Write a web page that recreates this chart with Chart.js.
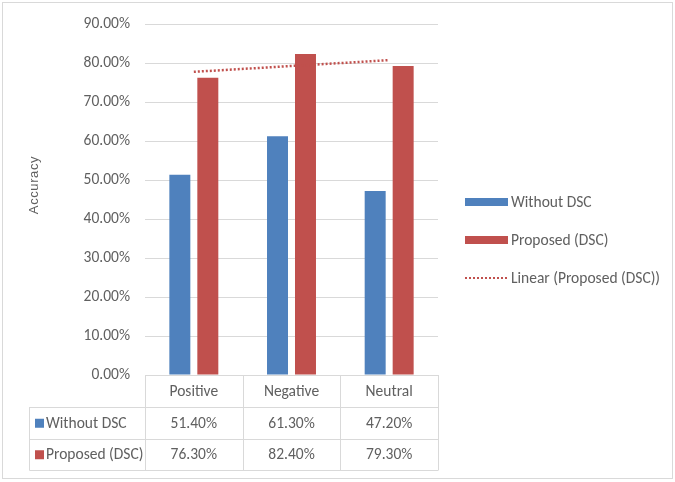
<!DOCTYPE html>
<html>
<head>
<meta charset="utf-8">
<script src="https://cdn.jsdelivr.net/npm/chart.js@4/dist/chart.umd.min.js"></script>
<style>
html,body{margin:0;padding:0;background:#fff;}
#wrap{position:relative;width:675px;height:482px;}
</style>
</head>
<body>
<div id="wrap"><canvas id="c" width="675" height="482"></canvas></div>
<script>
const categories = ['Positive', 'Negative', 'Neutral'];
const withoutDSC = [51.4, 61.3, 47.2];
const proposedDSC = [76.3, 82.4, 79.3];
const trendProposed = [77.8, 79.3, 80.8];
const seriesNames = ['Without DSC', 'Proposed (DSC)', 'Linear (Proposed (DSC))'];
const axisTitle = 'Accuracy';
const tableRows = [
  { name: 'Without DSC', values: ['51.40%', '61.30%', '47.20%'] },
  { name: 'Proposed (DSC)', values: ['76.30%', '82.40%', '79.30%'] }
];

const BLUE = '#4F81BD';
const RED = '#C0504D';
const TEXT = '#606060';
const GRID = '#d9d9d9';
const FONT = "Carlito, 'Liberation Sans Narrow', 'Arial Narrow', sans-serif";

const extras = {
  id: 'extras',
  afterDraw(chart) {
    const ctx = chart.ctx;
    const xs = chart.scales.x;
    const area = chart.chartArea;
    ctx.save();
    // outer border
    ctx.strokeStyle = GRID;
    ctx.lineWidth = 1;
    ctx.strokeRect(2.5, 2.5, 670, 476);

    // axis title
    ctx.save();
    ctx.translate(34, 185);
    ctx.rotate(-Math.PI / 2);
    ctx.fillStyle = TEXT;
    ctx.font = "13px 'Liberation Sans', Arial, sans-serif";
    try { ctx.letterSpacing = '0.6px'; } catch (e) {}
    ctx.textAlign = 'center';
    ctx.textBaseline = 'middle';
    ctx.fillText(axisTitle, 0, 0);
    try { ctx.letterSpacing = '0px'; } catch (e) {}
    ctx.restore();

    // data table
    const n = categories.length;
    const colW = (area.right - area.left) / n;
    const bounds = [];
    for (let i = 0; i <= n; i++) bounds.push(area.left + colW * i);
    const rowY = [area.bottom, 407, 438.5, 470];
    const leftX = 29;
    ctx.strokeStyle = GRID;
    ctx.lineWidth = 1;
    ctx.beginPath();
    ctx.moveTo(area.left, Math.round(rowY[0]) + 0.5);
    ctx.lineTo(area.right, Math.round(rowY[0]) + 0.5);
    for (let r = 1; r < rowY.length; r++) {
      ctx.moveTo(leftX + 0.5, Math.round(rowY[r]) + 0.5);
      ctx.lineTo(area.right, Math.round(rowY[r]) + 0.5);
    }
    for (let i = 0; i <= n; i++) {
      const x = Math.round(bounds[i]) + 0.5;
      ctx.moveTo(x, rowY[0]);
      ctx.lineTo(x, rowY[3] + 0.5);
    }
    ctx.moveTo(leftX + 0.5, rowY[1]);
    ctx.lineTo(leftX + 0.5, rowY[3] + 0.5);
    ctx.stroke();

    ctx.fillStyle = TEXT;
    ctx.font = "15.5px " + FONT;
    ctx.textAlign = 'center';
    ctx.textBaseline = 'middle';
    for (let i = 0; i < n; i++) {
      const cx = xs.getPixelForValue(i);
      ctx.fillText(categories[i], cx, (rowY[0] + rowY[1]) / 2 + 1);
      for (let r = 0; r < tableRows.length; r++) {
        ctx.fillText(tableRows[r].values[i], cx, (rowY[r + 1] + rowY[r + 2]) / 2 + 1);
      }
    }
    const keyColors = [BLUE, RED];
    ctx.textAlign = 'left';
    for (let r = 0; r < tableRows.length; r++) {
      const cy = (rowY[r + 1] + rowY[r + 2]) / 2;
      ctx.fillStyle = keyColors[r];
      ctx.fillRect(35, cy - 4, 9, 9);
      ctx.fillStyle = TEXT;
      ctx.fillText(tableRows[r].name, 46, cy + 1);
    }

    // legend
    const lx = 465, ly = [202, 240, 278];
    ctx.fillStyle = BLUE;
    ctx.fillRect(lx, ly[0] - 4, 43, 8);
    ctx.fillStyle = RED;
    ctx.fillRect(lx, ly[1] - 4, 43, 8);
    ctx.strokeStyle = RED;
    ctx.lineWidth = 2;
    ctx.setLineDash([2, 2]);
    ctx.beginPath();
    ctx.moveTo(lx, ly[2]);
    ctx.lineTo(lx + 43, ly[2]);
    ctx.stroke();
    ctx.setLineDash([]);
    ctx.fillStyle = TEXT;
    ctx.font = "15.5px " + FONT;
    ctx.textBaseline = 'middle';
    for (let i = 0; i < 3; i++) ctx.fillText(seriesNames[i], 511, ly[i] + 1);
    ctx.restore();
  }
};

new Chart(document.getElementById('c'), {
  type: 'bar',
  data: {
    labels: categories,
    datasets: [
      { type: 'line', label: seriesNames[2], data: trendProposed, borderColor: RED, borderWidth: 2.5, borderDash: [2, 2], pointRadius: 0, fill: false, order: 0 },
      { label: seriesNames[0], data: withoutDSC, backgroundColor: BLUE, borderWidth: 0, order: 1, categoryPercentage: 0.573, barPercentage: 0.75 },
      { label: seriesNames[1], data: proposedDSC, backgroundColor: RED, borderWidth: 0, order: 1, categoryPercentage: 0.573, barPercentage: 0.75 }
    ]
  },
  options: {
    responsive: false,
    animation: false,
    layout: { padding: { left: 0, right: 237, top: 24, bottom: 107 } },
    plugins: { legend: { display: false }, tooltip: { enabled: false } },
    scales: {
      x: { display: false, offset: true },
      y: {
        min: 0, max: 90,
        afterFit(s) { s.width = 145; },
        border: { display: false },
        grid: { color: GRID, drawTicks: false, lineWidth: 1 },
        ticks: {
          stepSize: 10, padding: 15, color: TEXT,
          font: { family: FONT, size: 15.5 },
          callback: v => v.toFixed(2) + '%'
        }
      }
    }
  },
  plugins: [extras]
});
</script>
</body>
</html>
